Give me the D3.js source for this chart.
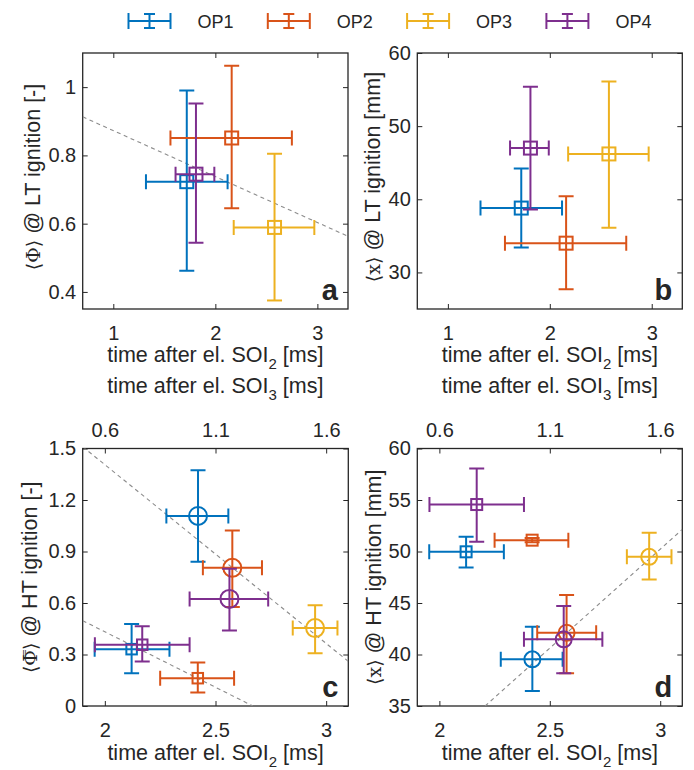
<!DOCTYPE html>
<html><head><meta charset="utf-8">
<script src="https://cdn.jsdelivr.net/npm/d3@7"></script>
<style>
body{margin:0;background:#fff;}
text{font-family:"Liberation Sans",Arial,Helvetica,sans-serif;fill:#262626;}
</style></head>
<body><svg id="c" width="694" height="770"></svg>
<script>
// ---------- data ----------
const ops = ["OP1","OP2","OP3","OP4"];
const colors = ["#0072BD","#D95319","#EDB120","#7E2F8E"];

// LT ignition (panels a, b) – time after el. SOI2
const ltX   = [1.72, 2.16, 2.58, 1.81];
const ltXlo = [1.32, 1.56, 2.18, 1.61];
const ltXhi = [2.12, 2.75, 2.97, 1.99];
// panel a: <Phi> @ LT ignition
const aY   = [0.723, 0.851, 0.589, 0.745];
const aYlo = [0.462, 0.645, 0.375, 0.544];
const aYhi = [0.990, 1.063, 0.805, 0.952];
// panel b: <x> @ LT ignition [mm]
const bY   = [38.8, 34.0, 46.2, 47.0];
const bYlo = [33.4, 27.7, 36.1, 38.6];
const bYhi = [44.2, 40.4, 56.1, 55.4];

// HT ignition (panels c, d) – circles
const htX   = [2.421, 2.576, 2.950, 2.563];
const htXlo = [2.278, 2.443, 2.849, 2.383];
const htXhi = [2.558, 2.710, 3.051, 2.738];
const cY    = [1.107, 0.805, 0.454, 0.624];
const cYlo  = [0.840, 0.577, 0.308, 0.440];
const cYhi  = [1.374, 1.023, 0.587, 0.800];
const dY    = [39.53, 42.11, 49.48, 41.47];
const dYlo  = [36.45, 38.17, 47.29, 38.17];
const dYhi  = [42.69, 45.77, 51.81, 44.70];
// HT ignition – squares (no OP3)
const sqX   = [2.121, 2.420, null, 2.169];
const sqXlo = [1.954, 2.250, null, 1.955];
const sqXhi = [2.292, 2.584, null, 2.383];
const cSqY   = [0.331, 0.162, null, 0.357];
const cSqYlo = [0.191, 0.078, null, 0.259];
const cSqYhi = [0.478, 0.253, null, 0.464];
const dSqY   = [49.97, 51.10, null, 54.56];
const dSqYlo = [48.45, 50.90, null, 50.94];
const dSqYhi = [51.42, 51.30, null, 58.05];

// trend lines (dashed)
const aTrend  = [[0.7, 0.913], [3.3, 0.563]];
const cTrend1 = [[1.9, 1.51], [3.1, 0.26]];
const cTrend2 = [[1.9, 0.497], [2.669, 0.0]];
const dTrend  = [[2.207, 35], [3.1, 52.14]];

// ticks
const abXTicks = [1, 2, 3];
const aYTicks = [0.4, 0.6, 0.8, 1];
const bYTicks = [30, 40, 50, 60];
const cdXTicks = [2, 2.5, 3];
const cdTopTicks = [0.6, 1.1, 1.6];
const cYTicks = [0, 0.3, 0.6, 0.9, 1.2, 1.5];
const dYTicks = [35, 40, 45, 50, 55, 60];

// ---------- drawing ----------
const svg = d3.select("#c");
const frameCol = "#262626";
const fmt = d => String(d);

function sub(sel, main, s, rest){
  sel.append("tspan").text(main);
  sel.append("tspan").attr("dy", 7).attr("font-size", "15px").text(s);
  sel.append("tspan").attr("dy", -7).text(rest);
}

function panel(opt){
  const g = svg.append("g");
  const x = d3.scaleLinear().domain(opt.xd).range([opt.x0, opt.x1]);
  const y = d3.scaleLinear().domain(opt.yd).range([opt.y1, opt.y0]);
  const id = "clip" + opt.letter;
  svg.append("clipPath").attr("id", id).append("rect")
    .attr("x", opt.x0).attr("y", opt.y0).attr("width", opt.x1-opt.x0).attr("height", opt.y1-opt.y0);

  // axes (ticks inward, box)
  const tk = 5;
  const bottom = d3.axisBottom(x).tickValues(opt.xt).tickFormat(fmt).tickSize(-tk).tickPadding(17);
  const left = d3.axisLeft(y).tickValues(opt.yt).tickFormat(fmt).tickSize(-tk).tickPadding(6.5);
  const ga = g.append("g").attr("transform", `translate(0,${opt.y1})`).call(bottom);
  const gl = g.append("g").attr("transform", `translate(${opt.x0},0)`).call(left);
  const gt = g.append("g").attr("transform", `translate(0,${opt.y0})`)
    .call(d3.axisTop(opt.topScale || x).tickValues(opt.topTicks || opt.xt).tickFormat(opt.topTicks ? fmt : "").tickSize(-tk).tickPadding(11.5));
  const gr = g.append("g").attr("transform", `translate(${opt.x1},0)`)
    .call(d3.axisRight(y).tickValues(opt.yt).tickFormat("").tickSize(-tk));
  [ga, gl, gt, gr].forEach(a => {
    a.select(".domain").remove();
    a.selectAll(".tick line").attr("stroke", frameCol).attr("stroke-width", 1);
    a.selectAll(".tick text").attr("font-size", "20px").attr("fill", "#262626")
      .style("font-family", '"Liberation Sans",Arial,sans-serif');
  });
  if (!opt.topTicks) gt.selectAll(".tick text").remove();
  g.append("rect").attr("x", opt.x0).attr("y", opt.y0).attr("width", opt.x1-opt.x0).attr("height", opt.y1-opt.y0)
    .attr("fill", "none").attr("stroke", frameCol).attr("stroke-width", 1.3);

  const pg = g.append("g").attr("clip-path", `url(#${id})`);
  // trend lines
  (opt.trends || []).forEach(t => {
    pg.append("line").attr("x1", x(t[0][0])).attr("y1", y(t[0][1])).attr("x2", x(t[1][0])).attr("y2", y(t[1][1]))
      .attr("stroke", "#8c8c8c").attr("stroke-width", 1.1).attr("stroke-dasharray", "4,3.5");
  });

  // error bars
  const cap = 7.5;
  opt.sets.forEach(s => {
    ops.forEach((op, i) => {
      if (s.x[i] == null) return;
      const c = colors[i];
      const eg = pg.append("g").attr("stroke", c).attr("stroke-width", 2).attr("fill", "none");
      const cx = x(s.x[i]), cy = y(s.y[i]);
      const xl = x(s.xlo[i]), xh = x(s.xhi[i]), yl = y(s.ylo[i]), yh = y(s.yhi[i]);
      eg.append("line").attr("x1", cx).attr("x2", cx).attr("y1", yl).attr("y2", yh);
      eg.append("line").attr("x1", cx-cap).attr("x2", cx+cap).attr("y1", yl).attr("y2", yl);
      eg.append("line").attr("x1", cx-cap).attr("x2", cx+cap).attr("y1", yh).attr("y2", yh);
      eg.append("line").attr("x1", xl).attr("x2", xh).attr("y1", cy).attr("y2", cy);
      eg.append("line").attr("x1", xl).attr("x2", xl).attr("y1", cy-cap).attr("y2", cy+cap);
      eg.append("line").attr("x1", xh).attr("x2", xh).attr("y1", cy-cap).attr("y2", cy+cap);
      if (s.marker === "square") {
        eg.append("rect").attr("x", cx - s.size/2).attr("y", cy - s.size/2).attr("width", s.size).attr("height", s.size);
      } else {
        eg.append("circle").attr("cx", cx).attr("cy", cy).attr("r", s.size/2);
      }
    });
  });

  // panel letter
  g.append("text").attr("x", opt.x1 - 10).attr("y", opt.y1 - 9).attr("text-anchor", "end")
    .attr("font-size", "29px").attr("font-weight", "bold").attr("fill", "#000").text(opt.letter);

  // y label
  const yl = g.append("text").attr("transform", `translate(${opt.ylx},${(opt.y0+opt.y1)/2 - (opt.ylShift||0)}) rotate(-90)`)
    .attr("text-anchor", "middle").attr("font-size", "21.5px");
  opt.ylabel(yl);
  return {x, y};
}

function phiLabel(t, dbl, rest){
  t.append("tspan").style("font-family", '"DejaVu Serif",serif').attr("font-size", "19px")
    .text(dbl ? "\u27E8\u03A6\u033F\u27E9" : "\u27E8\u03A6\u27E9");
  t.append("tspan").text(" @ " + rest);
}
function xLabel(t, rest){
  t.append("tspan").style("font-family", '"DejaVu Serif",serif').attr("font-size", "19px").text("\u27E8x\u27E9");
  t.append("tspan").text(" @ " + rest);
}

const LTsetA = {marker:"square", size:13, x:ltX, xlo:ltXlo, xhi:ltXhi, y:aY, ylo:aYlo, yhi:aYhi};
const LTsetB = {marker:"square", size:13, x:ltX, xlo:ltXlo, xhi:ltXhi, y:bY, ylo:bYlo, yhi:bYhi};

panel({letter:"a", x0:82.7, x1:348, y0:53, y1:309, xd:[0.7,3.3], yd:[0.35,1.1], xt:abXTicks, yt:aYTicks,
  trends:[aTrend], sets:[LTsetA], ylx:40, ylShift:4,
  ylabel: t => phiLabel(t, false, "LT ignition [-]")});
panel({letter:"b", x0:417.3, x1:682.3, y0:53, y1:309, xd:[0.7,3.3], yd:[25,60], xt:abXTicks, yt:bYTicks,
  trends:[], sets:[LTsetB], ylx:380, ylShift:4,
  ylabel: t => xLabel(t, "LT ignition [mm]")});

const topScaleC = d3.scaleLinear().domain([0.5,1.7]).range([82.7,348.3]);
const topScaleD = d3.scaleLinear().domain([0.5,1.7]).range([417.3,682.3]);
panel({letter:"c", x0:82.7, x1:348.3, y0:448.5, y1:706, xd:[1.9,3.1], yd:[0,1.5], xt:cdXTicks, yt:cYTicks,
  topScale:topScaleC, topTicks:cdTopTicks,
  trends:[cTrend1, cTrend2],
  sets:[{marker:"square", size:10.5, x:sqX, xlo:sqXlo, xhi:sqXhi, y:cSqY, ylo:cSqYlo, yhi:cSqYhi},
        {marker:"circle", size:18, x:htX, xlo:htXlo, xhi:htXhi, y:cY, ylo:cYlo, yhi:cYhi}],
  ylx:37, ylShift:0,
  ylabel: t => phiLabel(t, true, "HT ignition [-]")});
panel({letter:"d", x0:417.3, x1:682.3, y0:448.5, y1:706, xd:[1.9,3.1], yd:[35,60], xt:cdXTicks, yt:dYTicks,
  topScale:topScaleD, topTicks:cdTopTicks,
  trends:[dTrend],
  sets:[{marker:"square", size:11, x:sqX, xlo:sqXlo, xhi:sqXhi, y:dSqY, ylo:dSqYlo, yhi:dSqYhi},
        {marker:"circle", size:16, x:htX, xlo:htXlo, xhi:htXhi, y:dY, ylo:dYlo, yhi:dYhi}],
  ylx:381, ylShift:0,
  ylabel: t => xLabel(t, "HT ignition [mm]")});

// x labels
[[215.3, 361.7, "2"], [549.8, 361.7, "2"], [215.3, 393, "3"], [549.8, 393, "3"], [215.5, 760, "2"], [549.8, 760, "2"]]
  .forEach(([cx, by, s]) => {
    const t = svg.append("text").attr("x", cx).attr("y", by).attr("text-anchor", "middle").attr("font-size", "21.5px");
    sub(t, "time after el. SOI", s, " [ms]");
  });

// legend
const lg = svg.append("g");
ops.forEach((op, i) => {
  const x0 = 128.5 + i * 139.3, yc = 21;
  const g = lg.append("g").attr("stroke", colors[i]).attr("stroke-width", 2);
  g.append("line").attr("x1", x0).attr("x2", x0 + 42).attr("y1", yc).attr("y2", yc);
  g.append("line").attr("x1", x0).attr("x2", x0).attr("y1", yc - 8).attr("y2", yc + 8);
  g.append("line").attr("x1", x0 + 42).attr("x2", x0 + 42).attr("y1", yc - 8).attr("y2", yc + 8);
  g.append("line").attr("x1", x0 + 21).attr("x2", x0 + 21).attr("y1", yc - 7).attr("y2", yc + 7);
  g.append("line").attr("x1", x0 + 15.5).attr("x2", x0 + 26.5).attr("y1", yc - 7).attr("y2", yc - 7);
  g.append("line").attr("x1", x0 + 15.5).attr("x2", x0 + 26.5).attr("y1", yc + 7).attr("y2", yc + 7);
  lg.append("text").attr("x", x0 + 69).attr("y", yc + 7).attr("font-size", "18px").attr("fill", "#000").text(op);
});
</script></body></html>
